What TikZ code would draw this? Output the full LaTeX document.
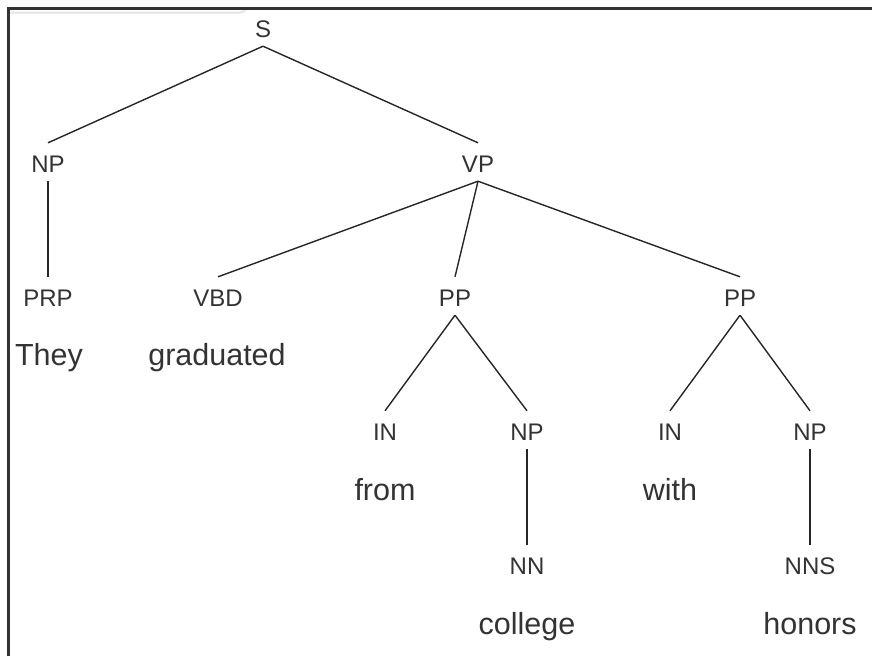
\documentclass[tikz,border=0pt]{standalone}
\usepackage{fontspec}
\setmainfont{Liberation Sans}
\usetikzlibrary{calc}

\tikzset{
    cat/.style={anchor=base, inner sep=5pt, text height=24pt, text depth=4pt,
        font=\fontsize{24}{28}\selectfont, text=black!80},
    word/.style={anchor=base, inner sep=0pt, font=\fontsize{30.5}{34}\selectfont, text=black!80},
    branch/.style={line width=1.4pt, black!85}
}

\begin{document}
\begin{tikzpicture}[x=1pt,y=-1pt]
    \useasboundingbox (0,0) rectangle (872,656);
    % frame
    \draw[gray!20, line width=2pt] (10,12.5) -- (240,12.5) to[out=0,in=-90] (246,8);
    \draw[black!80, line width=3pt] (8.5,656) -- (8.5,8) -- (872,8);
    % categories
    \node[cat] (s) at (263,37) {S};
    \node[cat] (np1) at (48,172) {NP};
    \node[cat] (vp) at (478,172) {VP};
    \node[cat] (prp) at (48,306) {PRP};
    \node[cat] (vbd) at (218,306) {VBD};
    \node[cat] (pp1) at (455,306) {PP};
    \node[cat] (pp2) at (740,306) {PP};
    \node[cat] (in1) at (385,440) {IN};
    \node[cat] (np2) at (527,440) {NP};
    \node[cat] (in2) at (670,440) {IN};
    \node[cat] (np3) at (810,440) {NP};
    \node[cat] (nn) at (527,574) {NN};
    \node[cat] (nns) at (810,574) {NNS};
    % words
    \node[word] (w1) at (49,365) {They};
    \node[word] (w2) at (217,365) {graduated};
    \node[word] (w3) at (385,500) {from};
    \node[word] (w4) at (670,500) {with};
    \node[word] (w5) at (527,634) {college};
    \node[word] (w6) at (810,634) {honors};
    % branches
    \foreach \a/\b in {s/np1,s/vp,np1/prp,vp/vbd,vp/pp1,vp/pp2,pp1/in1,pp1/np2,pp2/in2,pp2/np3,np2/nn,np3/nns}
	\draw[branch] (\a.south) -- (\b.north);
\end{tikzpicture}
\end{document}
